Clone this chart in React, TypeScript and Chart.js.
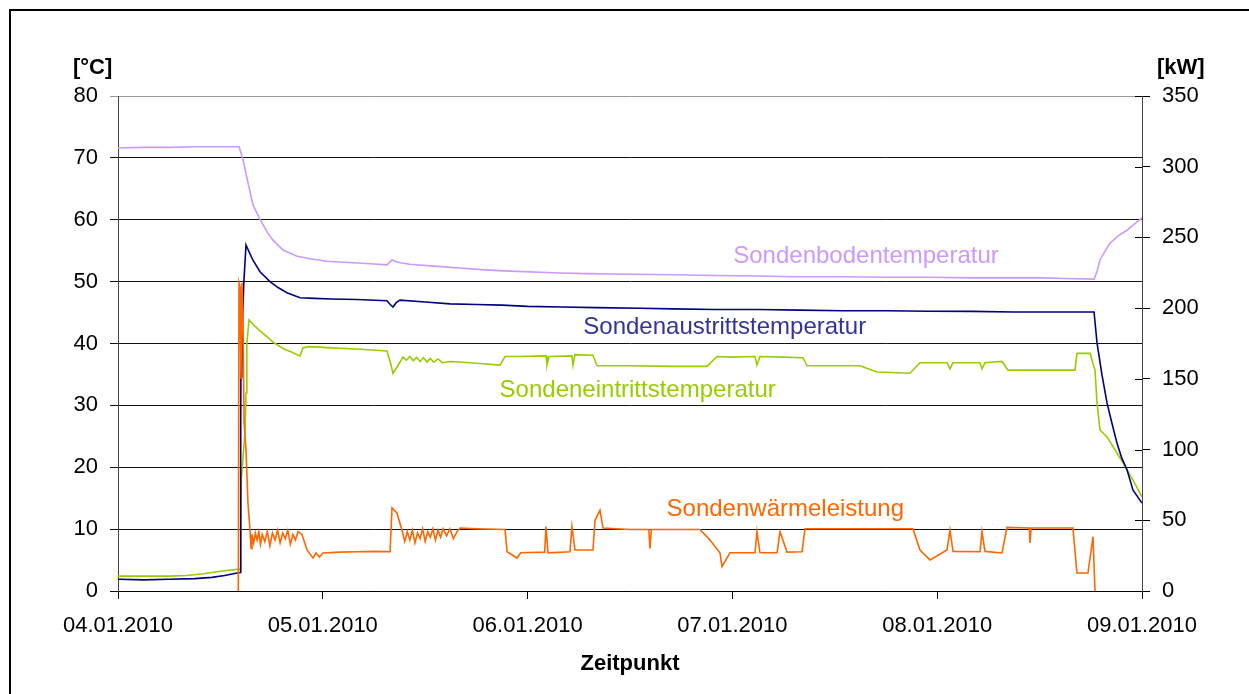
import React, { useEffect, useRef } from "react";
import { Chart, registerables } from "chart.js";

Chart.register(...registerables);

// x values are hours after 04.01.2010 00:00
const dateLabels = ["04.01.2010", "05.01.2010", "06.01.2010", "07.01.2010", "08.01.2010", "09.01.2010"];

// [hour, °C]
const sondenboden: number[][] = [
  [0, 71.6], [3, 71.7], [6, 71.7], [9, 71.8], [12, 71.8], [14.2, 71.8], [14.65, 69.7], [15.23, 66.0],
  [15.82, 62.4], [16.64, 60.1], [17.4, 58.2], [18.16, 56.7], [19.34, 55.1], [20.98, 54.1], [22.5, 53.7],
  [24.49, 53.3], [27, 53.1], [29.5, 52.9], [31.52, 52.7], [32.11, 53.5], [32.6, 53.2], [33.2, 53.0],
  [34.22, 52.8], [37, 52.5], [40, 52.2], [43, 51.9], [45.94, 51.7], [51.8, 51.4], [55, 51.3], [60, 51.2],
  [65, 51.1], [70, 51.0], [75, 50.9], [79.1, 50.8], [85, 50.8], [90, 50.7], [95, 50.7], [100, 50.6],
  [104, 50.6], [108.05, 50.6], [111, 50.5], [114.38, 50.4], [114.7, 51.5], [115.08, 53.5], [115.7, 55.0],
  [116.25, 56.2], [117.2, 57.4], [118.24, 58.3], [119.2, 59.4], [120, 60.3],
];

const sondenaustritt: number[][] = [
  [0, 1.9], [3, 1.8], [6, 1.9], [9, 2.0], [11, 2.2], [12.5, 2.5], [13.95, 2.9], [14.3, 3.0], [14.38, 26],
  [14.42, 42.7], [14.5, 34.4], [14.6, 44], [14.75, 50], [15.0, 55.9], [15.8, 53.5], [16.64, 51.6],
  [17.81, 50.0], [18.8, 49.0], [19.8, 48.2], [21.33, 47.4], [23, 47.3], [25, 47.2], [28, 47.1],
  [31.52, 46.9], [31.9, 46.3], [32.23, 45.9], [32.6, 46.6], [33.05, 47.0], [36, 46.7], [38.91, 46.4],
  [42, 46.3], [45, 46.2], [48, 46.0], [52, 45.9], [56, 45.8], [61.17, 45.7], [65, 45.6], [70, 45.5],
  [75, 45.5], [79.92, 45.4], [85, 45.3], [90, 45.3], [95, 45.2], [100, 45.2], [105, 45.1], [110, 45.1],
  [114.38, 45.1], [114.73, 40.1], [115.3, 35.0], [115.9, 30.4], [116.5, 27.0], [117.07, 23.9],
  [117.6, 21.6], [118.24, 19.6], [118.95, 16.3], [120, 14.2],
];

const sondeneintritt: number[][] = [
  [0, 2.4], [3, 2.4], [6, 2.4], [8, 2.5], [10, 2.8], [12, 3.2], [13.95, 3.5], [14.3, 3.5], [14.4, 8],
  [14.45, 18], [14.9, 26], [15.0, 32], [15.1, 40], [15.35, 43.8], [15.6, 43.4], [16.5, 42.2],
  [17.46, 41.1], [18.2, 40.2], [18.98, 39.5], [19.6, 39.0], [20.2, 38.7], [20.8, 38.3], [21.33, 38.0],
  [21.68, 39.3], [22.5, 39.5], [25, 39.3], [28, 39.1], [31.52, 38.8], [31.9, 37.0], [32.23, 35.2],
  [32.7, 36.2], [33.4, 37.8], [33.8, 37.3], [34.2, 37.9], [34.6, 37.2], [35.0, 37.8], [35.4, 37.1],
  [35.8, 37.7], [36.2, 37.0], [36.6, 37.6], [37.0, 37.0], [37.5, 37.5], [38.0, 36.9], [38.91, 37.1],
  [40, 37.0], [42, 36.8], [44.77, 36.5], [45.35, 37.9], [47, 37.9], [50.16, 38.0], [50.27, 36.5],
  [50.5, 37.9], [53.2, 38.0], [53.32, 36.5], [53.55, 38.2], [55.66, 38.1], [56.13, 36.4], [60, 36.4],
  [65, 36.3], [69.02, 36.3], [70.2, 37.9], [72, 37.8], [74.65, 37.9], [74.88, 36.5], [75.23, 37.9],
  [78, 37.8], [80.27, 37.7], [80.74, 36.4], [84, 36.4], [86.95, 36.4], [88.95, 35.4], [92.81, 35.2],
  [93.98, 36.9], [97.15, 36.9], [97.5, 35.9], [97.85, 36.9], [101.02, 36.9], [101.25, 35.9],
  [101.6, 36.9], [103.59, 37.1], [104.3, 35.7], [108, 35.7], [112.15, 35.7], [112.38, 38.4],
  [113.91, 38.4], [114.49, 35.7], [114.73, 30.4], [115.08, 26.0], [115.9, 24.9], [117.07, 22.3],
  [117.77, 20.7], [118.95, 17.9], [120, 15.2],
];

// [hour, kW] (the zero stretches before and after run along the axis and are hidden in the original)
const sondenwaerme: number[][] = [
  [14.1, 0], [14.18, 218], [14.3, 215], [14.41, 150], [14.53, 218], [14.65, 190], [14.77, 120],
  [15.0, 100], [15.23, 62], [15.47, 43], [15.6, 30], [15.7, 40], [15.9, 34], [16.1, 41], [16.3, 36],
  [16.5, 42], [16.7, 33], [16.9, 40], [17.2, 35], [17.5, 42], [17.8, 32], [18.1, 41], [18.4, 36],
  [18.7, 43], [19.0, 34], [19.3, 41], [19.6, 37], [19.9, 43], [20.2, 33], [20.5, 40], [20.8, 36],
  [21.1, 42], [21.56, 40], [22.15, 29], [22.85, 23.3], [23.2, 27], [23.6, 24], [24.02, 26.9], [26, 27.5],
  [28, 27.8], [30, 28], [31.88, 27.8], [32.11, 58.7], [32.7, 55], [33.28, 43], [33.6, 35], [33.9, 42],
  [34.2, 36], [34.5, 43], [34.8, 34], [35.1, 41], [35.4, 37], [35.7, 44], [36, 35], [36.3, 42], [36.6, 38],
  [36.9, 44], [37.2, 36], [37.5, 43], [37.8, 38], [38.1, 44], [38.5, 39], [38.9, 44], [39.3, 37],
  [39.73, 42], [40.08, 44.5], [42, 44], [45.35, 43.5], [45.6, 27.8], [46.76, 23.3], [47.2, 27], [50.0, 27.5],
  [50.16, 45.5], [50.39, 27], [52.97, 27.8], [53.2, 45.5], [53.55, 29], [55.66, 29], [55.9, 50],
  [56.48, 57], [56.84, 44.5], [60, 43.5], [62.2, 43.5], [62.34, 30], [62.5, 43.5], [68.2, 43.5],
  [69.38, 36], [70.55, 26.9], [70.78, 17.2], [71.72, 27], [74.65, 27], [74.88, 42], [75.23, 27],
  [77.23, 27], [77.58, 42], [78.4, 27.5], [80.16, 27.8], [80.51, 44], [86, 44], [93.16, 44], [93.98, 29],
  [95.16, 22], [97.15, 29], [97.5, 43], [97.85, 28], [101.02, 27.8], [101.25, 42], [101.6, 28],
  [103.59, 26.9], [104.18, 45], [106.8, 44.5], [106.88, 34], [107.0, 44.5], [111.91, 44.5], [112.38, 12.7],
  [113.67, 12.7], [114.26, 38.4], [114.49, 0],
];

const seriesNames = ["Sondenwärmeleistung", "Sondenaustrittstemperatur", "Sondeneintrittstemperatur", "Sondenbodentemperatur"];
const lineColors = ["#FF6600", "#000080", "#99CC00", "#CC99FF"];
const textColors = ["#FF6600", "#333399", "#99CC00", "#CC99FF"];
// label anchor in data units: [hour, °C]
const labelAnchors: number[][] = [[78.2, 12.1], [71.1, 41.5], [60.9, 31.35], [87.66, 53.0]];

const FONT = "'Liberation Sans', Arial, sans-serif";

const toPoints = (arr: number[][]) => arr.map(([x, y]) => ({ x, y }));

export default function App() {
  const ref = useRef<HTMLCanvasElement>(null);
  useEffect(() => {
    const textPlugin = {
      id: "texts",
      afterDraw(chart: any) {
        const ctx = chart.ctx;
        const xs = chart.scales.x;
        const ys = chart.scales.y;
        const y1 = chart.scales.y1;
        ctx.save();
        // inner ticks of right axis
        ctx.strokeStyle = "#000";
        ctx.lineWidth = 1;
        y1.ticks.forEach((t: any) => {
          const py = Math.round(y1.getPixelForValue(t.value)) + 0.5;
          ctx.beginPath();
          ctx.moveTo(y1.left - 7, py);
          ctx.lineTo(y1.left, py);
          ctx.stroke();
        });
        ctx.fillStyle = "#000";
        ctx.font = `bold 22px ${FONT}`;
        ctx.textBaseline = "alphabetic";
        ctx.textAlign = "left";
        ctx.fillText("[°C]", 73, 74);
        ctx.fillText("[kW]", 1157, 74);
        ctx.textAlign = "center";
        ctx.fillText("Zeitpunkt", 630, 670);
        ctx.font = `24px ${FONT}`;
        seriesNames.forEach((name, i) => {
          ctx.fillStyle = textColors[i];
          ctx.fillText(name, xs.getPixelForValue(labelAnchors[i][0]), ys.getPixelForValue(labelAnchors[i][1]));
        });
        ctx.restore();
      },
    };

    const chart = new Chart(ref.current as HTMLCanvasElement, {
      type: "line",
      data: {
        datasets: [
          { label: seriesNames[0], data: toPoints(sondenwaerme), yAxisID: "y1" },
          { label: seriesNames[1], data: toPoints(sondenaustritt), yAxisID: "y" },
          { label: seriesNames[2], data: toPoints(sondeneintritt), yAxisID: "y" },
          { label: seriesNames[3], data: toPoints(sondenboden), yAxisID: "y" },
        ].map((d, i) => ({
          ...d,
          borderColor: lineColors[i],
          backgroundColor: lineColors[i],
          borderWidth: 1.6,
          pointRadius: 0,
          tension: 0,
          fill: false,
        })),
      },
      options: {
        responsive: false,
        animation: false,
        layout: { padding: { top: 96, left: 0, right: 0, bottom: 0 } },
        plugins: { legend: { display: false }, tooltip: { enabled: false } },
        scales: {
          x: {
            type: "linear",
            min: 0,
            max: 120,
            afterFit: (s: any) => { s.height = 103; },
            ticks: {
              stepSize: 24,
              autoSkip: false,
              maxRotation: 0,
              padding: 14,
              color: "#000",
              font: { family: FONT, size: 22 },
              callback: (v: any) => dateLabels[Math.round(Number(v) / 24)] ?? "",
            },
            grid: { drawOnChartArea: false, tickLength: 8, color: "#000" },
            border: { color: "#000", width: 1 },
          },
          y: {
            position: "left",
            min: 0,
            max: 80,
            afterFit: (s: any) => { s.width = 118; },
            ticks: { stepSize: 10, padding: 12, color: "#000", font: { family: FONT, size: 22 } },
            grid: {
              tickLength: 8,
              color: (c: any) => (c.tick && c.tick.value === 80 ? "#9a9a9a" : "#111"),
            },
            border: { color: "#444", width: 1 },
          },
          y1: {
            position: "right",
            min: 0,
            max: 350,
            afterFit: (s: any) => { s.width = 107; },
            ticks: { stepSize: 50, padding: 12, color: "#000", font: { family: FONT, size: 22 } },
            grid: { drawOnChartArea: false, tickLength: 8, color: "#000" },
            border: { color: "#444", width: 1 },
          },
        },
      } as any,
      plugins: [textPlugin],
    });
    return () => chart.destroy();
  }, []);

  return (
    <div style={{ position: "absolute", left: 0, top: 0, width: 1249, height: 694, overflow: "hidden", background: "#fff" }}>
      <div style={{ position: "absolute", left: 9, top: 9, width: 1400, height: 900, border: "2px solid #000" }} />
      <canvas ref={ref} width={1249} height={694} style={{ position: "absolute", left: 0, top: 0 }} />
    </div>
  );
}
